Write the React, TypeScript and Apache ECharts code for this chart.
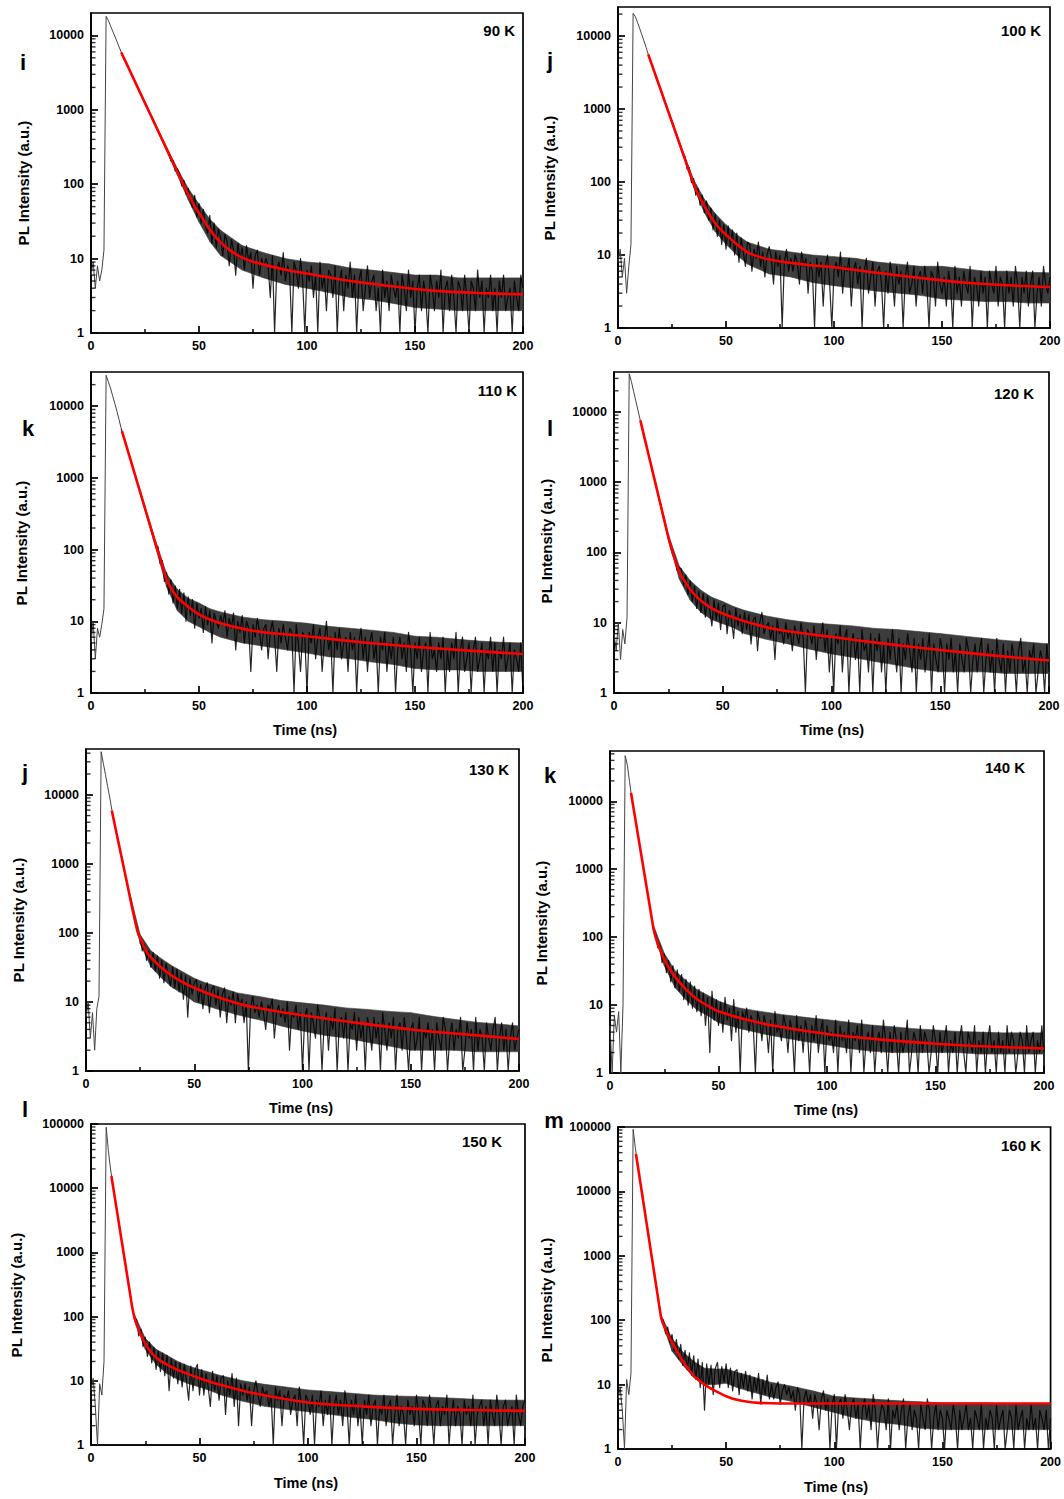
import React, { useEffect, useRef } from "react";
import * as echarts from "echarts";

// ---------- data ----------
const TEMPS = ["90 K", "100 K", "110 K", "120 K", "130 K", "140 K", "150 K", "160 K"];
const LETTERS = ["i", "j", "k", "l", "j", "k", "l", "m"];
const X_TICKS = [0, 50, 100, 150, 200];
const Y_MAX = [20000, 25000, 30000, 37000, 46000, 55000, 100000, 100000];
const NOISE_FROM = 14; // channel where the noisy part is drawn from

// measured counts, one value per ns channel (t = 0 .. 200 ns)
const DECAY_90K = [
  6, 9, 4, 8, 5, 7, 13,
  18000, 16000, 13500, 11500, 9800, 8300, 7000,
  5950, 5080, 4460, 3830, 3370, 2890, 2530,
  2170, 1900, 1630, 1430, 1220, 1080, 920, 812, 695, 610,
  518, 462, 388, 350, 290, 270, 205, 210, 150, 160,
  140, 95, 112, 74, 88, 60, 49, 71, 36, 55,
  30, 46, 27, 22, 38, 16, 30, 14, 25, 19,
  11, 21, 17, 8, 18, 13, 6, 16, 10, 14,
  7, 15, 9, 12, 4, 11, 13, 6, 10, 8,
  10, 8, 3, 11, 1, 7, 9, 6, 12, 5,
  8, 6, 1, 9, 7, 4, 10, 5, 1, 7,
  5, 8, 3, 6, 1, 9, 4, 6, 2, 7,
  6, 3, 8, 1, 5, 7, 2, 6, 4, 9,
  3, 6, 1, 5, 7, 2, 4, 8, 3, 5,
  6, 2, 4, 1, 7, 3, 5, 2, 6, 4,
  3, 5, 1, 6, 4, 2, 7, 3, 5, 1,
  4, 6, 2, 5, 3, 1, 6, 4, 2, 5,
  3, 7, 1, 4, 5, 2, 6, 3, 1, 5,
  4, 2, 6, 3, 1, 5, 4, 2, 7, 3,
  5, 1, 4, 3, 6, 2, 4, 1, 5, 3,
  6, 2, 3, 4, 1, 5, 3, 2, 6, 4,
];
const DECAY_100K = [
  8, 12, 5, 9, 3, 7, 14,
  20500, 18500, 15500, 12800, 10500, 8600, 7000,
  5600, 4650, 3790, 3160, 2560, 2150, 1740,
  1450, 1170, 990, 790, 675, 535, 460, 360, 312, 243,
  225, 150, 158, 98, 112, 66, 82, 48, 66, 38,
  55, 30, 44, 22, 36, 18, 30, 14, 26, 12,
  25, 13, 22, 10, 20, 8, 17, 11, 7, 15,
  14, 6, 12, 9, 15, 7, 11, 5, 10, 13,
  9, 4, 11, 7, 10, 1, 8, 12, 6, 9,
  6, 10, 8, 4, 11, 7, 9, 3, 8, 6,
  1, 9, 5, 8, 2, 7, 10, 4, 1, 6,
  8, 5, 11, 3, 7, 6, 9, 2, 6, 8,
  4, 7, 1, 6, 9, 3, 5, 8, 2, 6,
  7, 4, 1, 6, 3, 8, 5, 2, 7, 4,
  6, 1, 5, 8, 3, 4, 7, 2, 5, 6,
  3, 7, 4, 1, 6, 5, 2, 8, 4, 3,
  5, 2, 6, 4, 1, 7, 3, 5, 2, 6,
  4, 3, 7, 1, 5, 4, 2, 6, 3, 5,
  1, 6, 4, 3, 7, 2, 5, 4, 1, 6,
  3, 5, 2, 7, 4, 1, 5, 3, 6, 2,
  4, 6, 1, 3, 5, 2, 7, 4, 3, 5,
];
const DECAY_110K = [
  5, 10, 3, 8, 6, 9, 15,
  27000, 22000, 18000, 14000, 11000, 8500, 6500,
  4850, 3820, 3080, 2400, 1930, 1500, 1210,
  960, 745, 605, 468, 382, 292, 242, 181, 153, 112,
  110, 64, 70, 36, 48, 24, 38, 18, 31, 15,
  28, 13, 25, 10, 22, 12, 20, 8, 18, 11,
  15, 7, 16, 9, 14, 5, 13, 10, 8, 12,
  9, 14, 6, 11, 8, 13, 4, 10, 7, 12,
  5, 10, 8, 2, 9, 6, 11, 7, 4, 8,
  9, 3, 7, 10, 6, 2, 8, 5, 9, 6,
  4, 8, 7, 1, 9, 5, 2, 7, 6, 1,
  7, 5, 9, 3, 6, 8, 2, 5, 10, 4,
  6, 1, 7, 4, 8, 3, 5, 6, 2, 7,
  4, 6, 1, 5, 8, 3, 6, 2, 5, 7,
  3, 5, 1, 6, 4, 7, 2, 5, 3, 6,
  1, 4, 6, 3, 5, 2, 7, 4, 1, 5,
  3, 6, 2, 4, 5, 1, 7, 3, 4, 2,
  5, 3, 6, 1, 4, 2, 5, 3, 7, 1,
  4, 6, 2, 3, 5, 1, 4, 6, 2, 3,
  5, 1, 4, 3, 6, 2, 5, 1, 4, 3,
  6, 2, 3, 5, 1, 4, 3, 2, 5, 1,
];
const DECAY_120K = [
  7, 4, 10, 3, 8, 5, 12,
  35000, 27000, 19700, 14400, 10600, 7800,
  5850, 4290, 3230, 2360, 1790, 1300, 985, 720,
  548, 395, 304, 216, 170, 125, 92, 88, 56, 60,
  58, 34, 48, 25, 39, 20, 33, 16, 28, 14,
  26, 12, 24, 15, 9, 21, 11, 19, 8, 17,
  18, 7, 15, 11, 6, 16, 9, 13, 7, 14,
  8, 13, 5, 11, 12, 4, 10, 14, 7, 9,
  10, 6, 9, 3, 11, 7, 8, 5, 10, 6,
  8, 4, 9, 7, 5, 10, 6, 1, 8, 7,
  5, 9, 3, 7, 6, 10, 4, 8, 2, 6,
  1, 7, 5, 9, 2, 6, 8, 1, 5, 7,
  3, 6, 1, 8, 4, 5, 2, 7, 1, 6,
  4, 7, 2, 5, 1, 6, 3, 8, 4, 2,
  6, 1, 5, 3, 7, 4, 2, 6, 1, 5,
  3, 6, 2, 4, 7, 1, 5, 3, 2, 6,
  4, 1, 5, 3, 6, 2, 4, 1, 5, 3,
  2, 6, 4, 1, 3, 5, 2, 4, 6, 1,
  3, 5, 2, 4, 1, 6, 3, 2, 5, 1,
  4, 2, 5, 3, 1, 4, 6, 2, 3, 1,
  4, 3, 5, 1, 2, 4, 3, 1, 5, 2,
];
const DECAY_130K = [
  6, 10, 3, 7, 2, 8, 12,
  42000, 28500, 19500, 13200, 9000, 5900,
  4080, 2850, 2060, 1440, 1040, 725, 525, 362,
  263, 181, 135, 95, 85, 55, 68, 40, 55, 32,
  52, 28, 46, 22, 40, 19, 36, 24, 17, 32,
  16, 30, 14, 26, 11, 24, 6, 22, 13, 19,
  21, 10, 18, 8, 16, 19, 7, 15, 17, 9,
  15, 6, 13, 16, 5, 12, 9, 14, 5, 13,
  9, 11, 5, 10, 1, 8, 12, 7, 9, 6,
  10, 7, 4, 9, 8, 11, 3, 7, 9, 6,
  8, 5, 10, 2, 7, 6, 9, 4, 7, 1,
  6, 8, 1, 7, 5, 3, 9, 6, 1, 5,
  7, 2, 6, 4, 8, 1, 5, 6, 3, 7,
  1, 5, 4, 7, 2, 6, 3, 5, 1, 6,
  4, 2, 6, 3, 5, 1, 7, 4, 2, 5,
  3, 6, 1, 4, 5, 2, 6, 3, 1, 4,
  5, 2, 3, 6, 1, 4, 3, 5, 2, 4,
  1, 5, 3, 2, 6, 4, 1, 3, 5, 2,
  4, 3, 6, 1, 2, 5, 3, 4, 1, 6,
  2, 4, 3, 1, 5, 3, 2, 4, 6, 1,
  3, 5, 2, 4, 1, 3, 5, 2, 3, 4,
];
const DECAY_140K = [
  5, 1, 7, 4, 8, 1, 10,
  47000, 34000, 19500, 11300,
  7420, 4710, 3070, 1930, 1270, 790, 522, 325, 216, 131,
  110, 70, 76, 42, 56, 30, 45, 22, 38, 18,
  33, 16, 28, 12, 24, 10, 22, 9, 19, 8,
  17, 7, 15, 5, 13, 2, 16, 6, 12, 5,
  11, 4, 13, 6, 9, 3, 12, 4, 8, 1,
  8, 6, 9, 4, 7, 5, 1, 8, 6, 3,
  7, 5, 2, 6, 1, 8, 4, 5, 3, 7,
  5, 2, 6, 4, 1, 7, 3, 5, 2, 6,
  4, 1, 5, 3, 7, 2, 4, 6, 1, 5,
  3, 4, 2, 6, 1, 5, 3, 4, 2, 6,
  1, 4, 3, 5, 2, 6, 1, 3, 4, 2,
  5, 1, 3, 4, 2, 6, 3, 1, 4, 2,
  5, 3, 1, 4, 2, 3, 6, 1, 2, 4,
  3, 1, 5, 2, 4, 3, 1, 2, 5, 3,
  1, 4, 2, 3, 5, 1, 3, 2, 4, 1,
  3, 5, 2, 1, 4, 3, 2, 5, 1, 3,
  2, 4, 1, 3, 5, 2, 3, 1, 4, 2,
  3, 1, 5, 2, 4, 3, 1, 2, 4, 3,
  1, 5, 2, 3, 4, 1, 3, 2, 5, 2,
];
const DECAY_150K = [
  7, 11, 4, 1, 9, 6, 20,
  89000, 38500, 20000, 11500,
  7100, 4300, 2670, 1610, 1000, 605, 378, 224, 143, 93,
  90, 50, 64, 34, 48, 24, 40, 19, 33, 15,
  29, 14, 27, 12, 25, 7, 22, 11, 20, 9,
  19, 8, 18, 10, 5, 17, 7, 15, 18, 6,
  15, 6, 13, 8, 4, 14, 7, 12, 5, 11,
  12, 3, 10, 6, 13, 4, 11, 2, 9, 6,
  9, 5, 8, 2, 7, 10, 6, 4, 8, 6,
  7, 4, 6, 1, 8, 5, 7, 2, 6, 5,
  7, 3, 5, 6, 2, 8, 4, 1, 6, 5,
  3, 6, 1, 5, 4, 7, 2, 5, 3, 6,
  1, 4, 6, 3, 5, 2, 7, 4, 1, 5,
  3, 6, 2, 4, 1, 5, 3, 6, 2, 4,
  5, 1, 4, 3, 6, 2, 4, 5, 1, 3,
  6, 2, 4, 3, 1, 5, 3, 4, 2, 6,
  3, 1, 5, 4, 2, 6, 3, 1, 4, 5,
  2, 4, 3, 6, 1, 3, 5, 2, 4, 3,
  1, 5, 3, 4, 2, 6, 1, 3, 4, 5,
  2, 4, 1, 5, 3, 2, 6, 3, 1, 4,
  5, 2, 3, 4, 1, 6, 3, 2, 4, 5,
];
const DECAY_160K = [
  6, 9, 4, 1, 12, 7, 15,
  92000, 48000, 27000, 16500,
  9800, 5950, 3560, 2180, 1290, 800, 470, 292, 171, 108,
  100, 62, 78, 45, 60, 33, 50, 25, 42, 20,
  34, 17, 31, 14, 28, 12, 25, 9, 22, 4,
  21, 10, 20, 7, 18, 22, 9, 19, 11, 21,
  9, 18, 8, 16, 17, 7, 15, 9, 16, 8,
  14, 6, 13, 8, 15, 5, 12, 7, 14, 6,
  10, 6, 9, 11, 5, 8, 10, 7, 9, 6,
  8, 4, 9, 7, 1, 6, 8, 5, 7, 3,
  7, 5, 2, 6, 8, 4, 6, 1, 5, 7,
  1, 5, 6, 3, 7, 4, 2, 5, 6, 3,
  5, 1, 4, 6, 3, 5, 2, 7, 4, 1,
  3, 5, 4, 2, 6, 1, 4, 3, 5, 2,
  4, 6, 1, 3, 5, 2, 4, 3, 1, 5,
  3, 2, 6, 4, 1, 3, 5, 2, 4, 3,
  1, 4, 3, 2, 5, 3, 1, 4, 2, 3,
  5, 2, 3, 1, 4, 3, 2, 5, 1, 3,
  2, 4, 3, 1, 5, 2, 3, 4, 1, 2,
  4, 3, 1, 5, 2, 3, 4, 1, 3, 2,
  5, 2, 3, 1, 4, 3, 2, 4, 1, 3,
];

// dense core of the noisy trace (where the channels pile up), read at these times
const BAND_T = [20, 25, 30, 35, 40, 45, 50, 55, 60, 70, 80, 90, 100, 110, 120, 130, 140, 150, 160, 170, 180, 190, 200];
const BAND_LO_90K = [2450, 1190, 585, 280, 132, 62, 31, 17, 11, 7, 5.5, 4.5, 4, 3.5, 3, 2.8, 2.5, 2.2, 2.1, 2, 2, 2, 2];
const BAND_HI_90K = [2600, 1270, 625, 315, 162, 88, 54, 34, 24, 15, 12, 10, 9, 8.5, 7.5, 7, 6.5, 6, 6, 5.5, 5.5, 5.5, 5.5];
const BAND_LO_100K = [1700, 640, 238, 85, 38, 21, 14, 10, 7.5, 5.5, 5, 4.2, 3.8, 3.5, 3.2, 3, 2.8, 2.5, 2.4, 2.3, 2.3, 2.2, 2.2];
const BAND_HI_100K = [1800, 690, 265, 108, 58, 37, 26, 19, 15, 12, 11, 10, 9.5, 9, 8, 7.5, 7, 7, 6.5, 6, 6, 5.8, 5.7];
const BAND_LO_110K = [1150, 355, 105, 30, 14, 10, 8.4, 7, 6, 5, 4.5, 4, 3.6, 3.2, 3, 2.7, 2.5, 2.2, 2.1, 2.1, 2, 2, 2];
const BAND_HI_110K = [1250, 395, 130, 46, 28, 21, 18, 15, 13.5, 11.5, 10.5, 10, 9.4, 8.5, 8, 7.5, 7, 6.2, 6, 5.6, 5.3, 5.1, 5];
const BAND_LO_120K = [700, 150, 42, 21, 14, 11, 9.7, 8.5, 7, 5.8, 5, 4.2, 3.6, 3.2, 2.8, 2.5, 2.2, 2, 2, 2, 1.9, 1.9, 1.9];
const BAND_HI_120K = [760, 180, 64, 40, 29, 23, 20, 17, 15, 12.5, 11, 10, 9.5, 9, 8.3, 8, 7.5, 7, 6.5, 6, 5.6, 5.3, 5];
const BAND_LO_130K = [340, 70, 32, 22, 16, 13, 10, 9, 8, 6.5, 5.5, 4.5, 3.8, 3.3, 3, 2.6, 2.3, 2, 2, 2, 1.9, 1.9, 1.9];
const BAND_HI_130K = [395, 95, 55, 42, 33, 27, 22, 19, 17, 13.5, 12, 10.5, 9.7, 9, 8.2, 7.8, 7.3, 7, 6.2, 5.6, 5.1, 4.8, 4.5];
const BAND_LO_140K = [125, 38, 18, 12, 8.5, 7, 5.5, 5, 4.5, 3.8, 3.3, 2.9, 2.6, 2.3, 2.1, 2, 2, 2, 2, 1.9, 1.9, 1.9, 1.9];
const BAND_HI_140K = [150, 58, 32, 23, 17, 14, 11.5, 10, 9, 8, 7.2, 6.6, 6.1, 5.6, 5.1, 4.8, 4.5, 4.3, 4.1, 4, 3.9, 3.9, 3.9];
const BAND_LO_150K = [88, 31, 18, 13, 10.5, 9, 8, 7, 6, 4.8, 4, 3.6, 3.3, 3, 2.7, 2.5, 2.2, 2.05, 2, 2, 2, 2, 2];
const BAND_HI_150K = [108, 46, 31, 25, 20, 17, 15, 13.5, 12, 10, 8.8, 8, 7.2, 6.8, 6.4, 6, 5.8, 5.7, 5.5, 5.3, 5.1, 5, 5];
const BAND_LO_160K = [100, 33, 20, 13, 10, 10, 10.5, 9, 8, 6.5, 5.5, 4.5, 3.7, 3, 2.6, 2.4, 2.1, 2, 2, 2, 2, 2, 2];
const BAND_HI_160K = [118, 52, 32, 23, 18, 17.5, 17.5, 15.5, 14, 11, 9.5, 8, 6.6, 6.2, 5.9, 5.6, 5.4, 5.2, 5.2, 5.2, 5.1, 5.1, 5.1];

// fitted decay curves [time ns, intensity]
const FIT_90K = [[14, 5900], [16, 4450], [18, 3350], [20, 2520], [22, 1890], [24, 1420], [26, 1070], [28, 805], [30, 605], [32, 455], [34, 343], [36, 258], [38, 194], [40, 146], [42, 110], [44, 84], [46, 65], [48, 50], [50, 41], [53, 30], [56, 22.5], [60, 16.5], [65, 12.5], [70, 10.3], [75, 9.1], [80, 8.3], [90, 7.1], [100, 6.3], [110, 5.6], [120, 5.0], [135, 4.4], [150, 3.9], [165, 3.6], [180, 3.45], [200, 3.3]];
const FIT_100K = [[14, 5600], [16, 3810], [18, 2580], [20, 1750], [22, 1185], [24, 803], [26, 545], [28, 369], [30, 250], [32, 169], [34, 115], [36, 80], [38, 60], [40, 47], [42, 37], [44, 30], [46, 25], [48, 21.5], [50, 19], [55, 14], [60, 10.9], [65, 9.5], [70, 8.7], [80, 7.8], [90, 7.2], [100, 6.8], [120, 5.7], [140, 4.85], [160, 4.2], [180, 3.85], [200, 3.65]];
const FIT_110K = [[14.3, 4500], [16, 3050], [18, 1915], [20, 1200], [22, 755], [24, 474], [26, 298], [28, 187], [30, 117], [32, 76], [34, 47], [36, 33], [38, 26], [40, 21.5], [45, 16], [50, 12.5], [55, 10.6], [60, 9.4], [70, 7.9], [80, 7.0], [90, 6.6], [100, 6.2], [125, 5.1], [150, 4.4], [175, 3.9], [200, 3.5]];
const FIT_120K = [[12.1, 7600], [14, 4315], [16, 2380], [18, 1315], [20, 726], [22, 401], [24, 221], [26, 125], [28, 80], [30, 53], [32, 41], [35, 30], [40, 20.5], [45, 16], [50, 13.5], [60, 10.5], [75, 8], [100, 6.3], [125, 5.0], [150, 4.1], [175, 3.4], [200, 2.9]];
const FIT_130K = [[11.9, 5900], [13, 4070], [14, 2870], [16, 1450], [18, 730], [20, 366], [22, 185], [24, 100], [26, 72], [28, 53], [30, 44], [35, 31], [40, 23.6], [45, 19], [50, 16], [60, 12], [75, 8.7], [100, 6.4], [125, 5.0], [150, 4.0], [175, 3.4], [200, 2.9]];
const FIT_140K = [[9.7, 13300], [11, 7400], [12, 4740], [13, 3040], [14, 1950], [15, 1250], [16, 800], [17, 514], [18, 330], [19, 211], [20, 136], [21, 100], [22, 80], [23, 66], [25, 47], [27, 36], [30, 26], [35, 17], [40, 12.3], [45, 9.8], [50, 8.1], [60, 6.45], [75, 5.0], [100, 3.75], [125, 3.1], [150, 2.7], [175, 2.45], [200, 2.3]];
const FIT_150K = [[9.4, 15500], [10, 11500], [11, 7070], [12, 4320], [13, 2650], [14, 1620], [15, 990], [16, 610], [17, 372], [18, 228], [19, 140], [20, 97], [21, 76], [22, 62], [23, 52], [25, 38], [27, 30], [30, 23], [35, 17.8], [40, 14.8], [45, 12.7], [50, 11], [60, 8.6], [75, 6.4], [100, 4.6], [125, 4.0], [150, 3.65], [175, 3.5], [200, 3.4]];
const FIT_160K = [[8.3, 38000], [9, 26900], [10, 16300], [11, 9800], [12, 5930], [13, 3580], [14, 2160], [15, 1300], [16, 790], [17, 476], [18, 288], [19, 174], [20, 108], [21, 86], [22, 71], [23, 60], [25, 45], [27, 34], [30, 23], [33, 16.5], [35, 13.6], [40, 10], [45, 8], [50, 6.6], [55, 5.8], [60, 5.4], [65, 5.2], [75, 5.1], [100, 5.1], [150, 5.1], [200, 5.1]];

const DECAYS = [DECAY_90K, DECAY_100K, DECAY_110K, DECAY_120K, DECAY_130K, DECAY_140K, DECAY_150K, DECAY_160K];
const BAND_LOS = [BAND_LO_90K, BAND_LO_100K, BAND_LO_110K, BAND_LO_120K, BAND_LO_130K, BAND_LO_140K, BAND_LO_150K, BAND_LO_160K];
const BAND_HIS = [BAND_HI_90K, BAND_HI_100K, BAND_HI_110K, BAND_HI_120K, BAND_HI_130K, BAND_HI_140K, BAND_HI_150K, BAND_HI_160K];
const FITS = [FIT_90K, FIT_100K, FIT_110K, FIT_120K, FIT_130K, FIT_140K, FIT_150K, FIT_160K];

// ---------- layout (pixels) ----------
const GRID_BOXES = [
  [91, 13, 432, 320],
  [618, 7, 432, 321],
  [91, 372, 432, 321],
  [614, 372, 435, 321],
  [86, 749, 433, 322],
  [610, 751, 434, 322],
  [91, 1124, 434, 321],
  [618, 1127, 433, 322],
];
const TEMP_POS = [[515, 30], [1041, 30], [517, 390], [1034, 393], [509, 769], [1025, 767], [502, 1141], [1041, 1145]];
const LETTER_POS = [[23, 62], [550, 60], [28, 428], [550, 428], [25, 772], [550, 775], [25, 1109], [554, 1120]];
const YTITLE_POS = [[23, 183], [549, 178], [21, 543], [546, 541], [18, 920], [541, 923], [16, 1295], [546, 1300]];
const XTITLE_POS: (number[] | null)[] = [null, null, [305, 730], [832, 730], [301, 1108], [826, 1110], [306, 1483], [836, 1487]];

const FONT = '"Liberation Sans", Arial, Helvetica, sans-serif';
const BAND_COLOR = "#3c3c3c";

function minorTicks(max: number): number[][] {
  const out: number[][] = [];
  for (let k = 0; k < 5; k++) {
    for (let m = 2; m <= 9; m++) {
      const v = m * Math.pow(10, k);
      if (v < max) out.push([0, v]);
    }
  }
  return out;
}

function bandSegments(lo: number[], hi: number[]): number[][] {
  const out: number[][] = [];
  for (let k = 0; k < BAND_T.length - 1; k++) {
    out.push([BAND_T[k], lo[k], hi[k], BAND_T[k + 1], lo[k + 1], hi[k + 1]]);
  }
  return out;
}

function renderBand(params: any, api: any) {
  const a = api.coord([api.value(0), api.value(1)]);
  const b = api.coord([api.value(3), api.value(4)]);
  const c = api.coord([api.value(3), api.value(5)]);
  const d = api.coord([api.value(0), api.value(2)]);
  return {
    type: "polygon",
    shape: { points: [a, b, c, d] },
    style: { fill: BAND_COLOR, stroke: BAND_COLOR, lineWidth: 0.6 },
    silent: true,
  };
}

function buildOption() {
  const grid: any[] = [];
  const xAxis: any[] = [];
  const yAxis: any[] = [];
  const series: any[] = [];
  const graphic: any[] = [];

  for (let i = 0; i < 8; i++) {
    const [l, t, w, h] = GRID_BOXES[i];
    grid.push({
      left: l, top: t, width: w, height: h,
      show: true, borderColor: "#000", borderWidth: 1.7,
      backgroundColor: "rgba(0,0,0,0)",
    });
    xAxis.push({
      gridIndex: i, type: "value",
      min: X_TICKS[0], max: X_TICKS[X_TICKS.length - 1], interval: 50,
      axisLine: { show: true, onZero: false, lineStyle: { color: "#000", width: 1.7 } },
      axisTick: { show: true, inside: true, length: 7, lineStyle: { color: "#000", width: 1.7 } },
      minorTick: { show: true, splitNumber: 2, length: 4, lineStyle: { color: "#000", width: 1.5 } },
      splitLine: { show: false },
      axisLabel: { color: "#000", fontWeight: "bold", fontSize: 12.5, fontFamily: FONT, margin: 6 },
    });
    yAxis.push({
      gridIndex: i, type: "log", logBase: 10, min: 1, max: Y_MAX[i],
      axisLine: { show: true, lineStyle: { color: "#000", width: 1.7 } },
      axisTick: { show: true, inside: true, length: 7, lineStyle: { color: "#000", width: 1.7 } },
      splitLine: { show: false },
      axisLabel: {
        color: "#000", fontWeight: "bold", fontSize: 12.5, fontFamily: FONT, margin: 7,
        showMaxLabel: Y_MAX[i] === 100000,
        formatter: (v: number) => String(Math.round(v)),
      },
    });

    // dense core of the noisy data
    series.push({
      type: "custom", xAxisIndex: i, yAxisIndex: i,
      data: bandSegments(BAND_LOS[i], BAND_HIS[i]),
      renderItem: renderBand, clip: true, silent: true, z: 1,
    });

    const pts = DECAYS[i].map((v, k) => [k, v]);
    // rise, peak and early decay: thin grey trace
    series.push({
      type: "line", xAxisIndex: i, yAxisIndex: i,
      data: pts.slice(0, NOISE_FROM + 1),
      showSymbol: false, symbol: "none", silent: true, z: 2,
      lineStyle: { color: "#444", width: 1 },
    });
    // noisy part
    series.push({
      type: "line", xAxisIndex: i, yAxisIndex: i,
      data: pts.slice(NOISE_FROM),
      showSymbol: false, symbol: "none", silent: true, z: 2,
      lineStyle: { color: "#000", width: 1.2, opacity: 0.85, join: "round" },
    });
    series.push({
      type: "line", xAxisIndex: i, yAxisIndex: i,
      data: FITS[i], smooth: 0.3,
      showSymbol: false, symbol: "none", silent: true, z: 3,
      lineStyle: { color: "#ff0000", width: 2.6 },
    });
    series.push({
      type: "scatter", xAxisIndex: i, yAxisIndex: i,
      data: minorTicks(Y_MAX[i]), symbol: "rect", symbolSize: [4.5, 1.4], symbolOffset: [2.25, 0],
      itemStyle: { color: "#000" }, silent: true, z: 5, clip: false,
    });

    graphic.push({
      type: "text", x: TEMP_POS[i][0], y: TEMP_POS[i][1],
      style: { text: TEMPS[i], fill: "#000", fontSize: 15, fontWeight: "bold", fontFamily: FONT, align: "right", verticalAlign: "middle" },
    });
    graphic.push({
      type: "text", x: LETTER_POS[i][0], y: LETTER_POS[i][1],
      style: { text: LETTERS[i], fill: "#000", fontSize: 22, fontWeight: "bold", fontFamily: FONT, align: "center", verticalAlign: "middle" },
    });
    graphic.push({
      type: "text", x: YTITLE_POS[i][0], y: YTITLE_POS[i][1], rotation: Math.PI / 2,
      style: { text: "PL Intensity (a.u.)", fill: "#000", fontSize: 15, fontWeight: "bold", fontFamily: FONT, align: "center", verticalAlign: "middle" },
    });
    const xp = XTITLE_POS[i];
    if (xp) {
      graphic.push({
        type: "text", x: xp[0], y: xp[1],
        style: { text: "Time (ns)", fill: "#000", fontSize: 14.5, fontWeight: "bold", fontFamily: FONT, align: "center", verticalAlign: "middle" },
      });
    }
  }

  return {
    animation: false,
    backgroundColor: "#fff",
    grid, xAxis, yAxis, series, graphic,
  };
}

export default function App() {
  const ref = useRef<HTMLDivElement>(null);
  useEffect(() => {
    document.body.style.margin = "0";
    const chart = echarts.init(ref.current as HTMLDivElement, null, { renderer: "svg" });
    chart.setOption(buildOption() as any);
    return () => chart.dispose();
  }, []);
  return <div ref={ref} style={{ width: 1064, height: 1499 }} />;
}
